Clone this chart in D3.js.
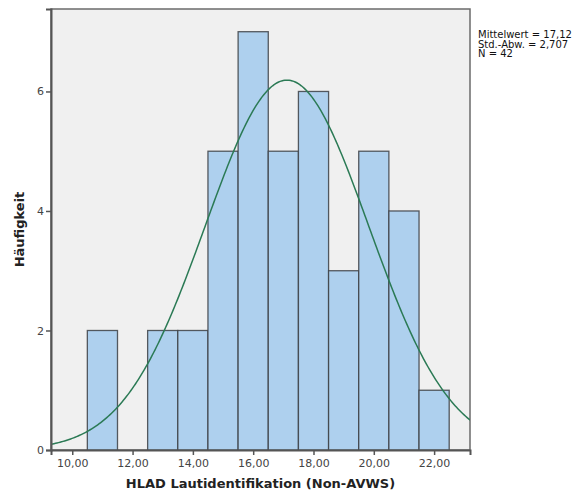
<!DOCTYPE html>
<html>
<head>
<meta charset="utf-8">
<script src="https://cdn.jsdelivr.net/npm/d3@7"></script>
<style>
  body { margin: 0; background: #fff; }
  text { font-family: "DejaVu Sans", "Lucida Grande", sans-serif; }
</style>
</head>
<body>
<div id="chart"></div>
<script>
// histogram bins (start of each bin, width 1)
const binStarts = [10.5, 11.5, 12.5, 13.5, 14.5, 15.5, 16.5, 17.5, 18.5, 19.5, 20.5, 21.5];
const binCounts = [2, 0, 2, 2, 5, 7, 5, 6, 3, 5, 4, 1];
const binWidth = 1;
const xTicks = [10, 12, 14, 16, 18, 20, 22];
const yTicks = [0, 2, 4, 6];
const stats = {mean: 17.12, sd: 2.707, n: 42};
const statLines = ["Mittelwert = 17,12", "Std.-Abw. = 2,707", "N = 42"];

const W = 587, H = 500;
const margin = {top: 9, right: 117, bottom: 50, left: 51};
const width = W - margin.left - margin.right;
const height = H - margin.top - margin.bottom;

const svg = d3.select("#chart").append("svg")
    .attr("width", W)
    .attr("height", H);

const g = svg.append("g")
    .attr("transform", `translate(${margin.left}, ${margin.top})`);

const x = d3.scaleLinear().domain([9.295, 23.19]).range([0, width]);
const y = d3.scaleLinear().domain([0, 7.38]).range([height, 0]);

// plot background
g.append("rect")
    .attr("width", width)
    .attr("height", height)
    .attr("fill", "#f0f0f0")
    .attr("stroke", "#6b6b6b")
    .attr("stroke-width", 1.5);

let clip = svg.append("defs").append("clipPath").attr("id", "plotClip");
clip.append("rect").attr("width", width).attr("height", height);

// bars
g.selectAll(".bar")
    .data(binStarts.map((s, i) => ({s: s, c: binCounts[i]})).filter(d => d.c > 0))
    .enter().append("rect")
    .attr("class", "bar")
    .attr("x", d => x(d.s))
    .attr("y", d => y(d.c))
    .attr("width", d => x(d.s + binWidth) - x(d.s))
    .attr("height", d => y(0) - y(d.c))
    .attr("fill", "#aed0ee")
    .attr("stroke", "#3c3f44")
    .attr("stroke-opacity", 0.85)
    .attr("stroke-width", 1.3);

// normal curve
const pdf = v => stats.n * binWidth * Math.exp(-0.5 * Math.pow((v - stats.mean) / stats.sd, 2)) / (stats.sd * Math.sqrt(2 * Math.PI));
const curvePts = d3.range(x.domain()[0], x.domain()[1] + 0.01, 0.05);
g.append("path")
    .datum(curvePts)
    .attr("clip-path", "url(#plotClip)")
    .attr("d", d3.line().x(d => x(d)).y(d => y(pdf(d))))
    .attr("fill", "none")
    .attr("stroke", "#2b7a55")
    .attr("stroke-width", 1.5);

// axes
const xAxis = g.append("g")
    .attr("transform", `translate(0, ${height})`)
    .call(d3.axisBottom(x).tickValues(xTicks).tickSize(5).tickPadding(4)
        .tickFormat(d => d3.format(".2f")(d).replace(".", ",")));
const yAxis = g.append("g")
    .call(d3.axisLeft(y).tickValues(yTicks).tickSize(5).tickPadding(2));

[xAxis, yAxis].forEach(a => {
    a.select(".domain").attr("stroke", "#555").attr("stroke-width", 2);
    a.selectAll(".tick line").attr("stroke", "#555").attr("stroke-width", 1.5);
    a.selectAll(".tick text").attr("fill", "#444").attr("font-size", "11px");
});

// axis titles
svg.append("text")
    .attr("x", margin.left + width / 2)
    .attr("y", 488)
    .attr("text-anchor", "middle")
    .attr("font-size", "13px")
    .attr("font-weight", "bold")
    .attr("fill", "#222")
    .text("HLAD Lautidentifikation (Non-AVWS)");

svg.append("text")
    .attr("transform", `translate(24, ${margin.top + height / 2}) rotate(-90)`)
    .attr("text-anchor", "middle")
    .attr("font-size", "13px")
    .attr("font-weight", "bold")
    .attr("fill", "#222")
    .text("Häufigkeit");

// stats text
svg.append("g").selectAll("text")
    .data(statLines)
    .enter().append("text")
    .attr("x", 478)
    .attr("y", (d, i) => 38 + i * 9.5)
    .attr("font-size", "10px")
    .attr("fill", "#111")
    .text(d => d);
</script>
</body>
</html>
